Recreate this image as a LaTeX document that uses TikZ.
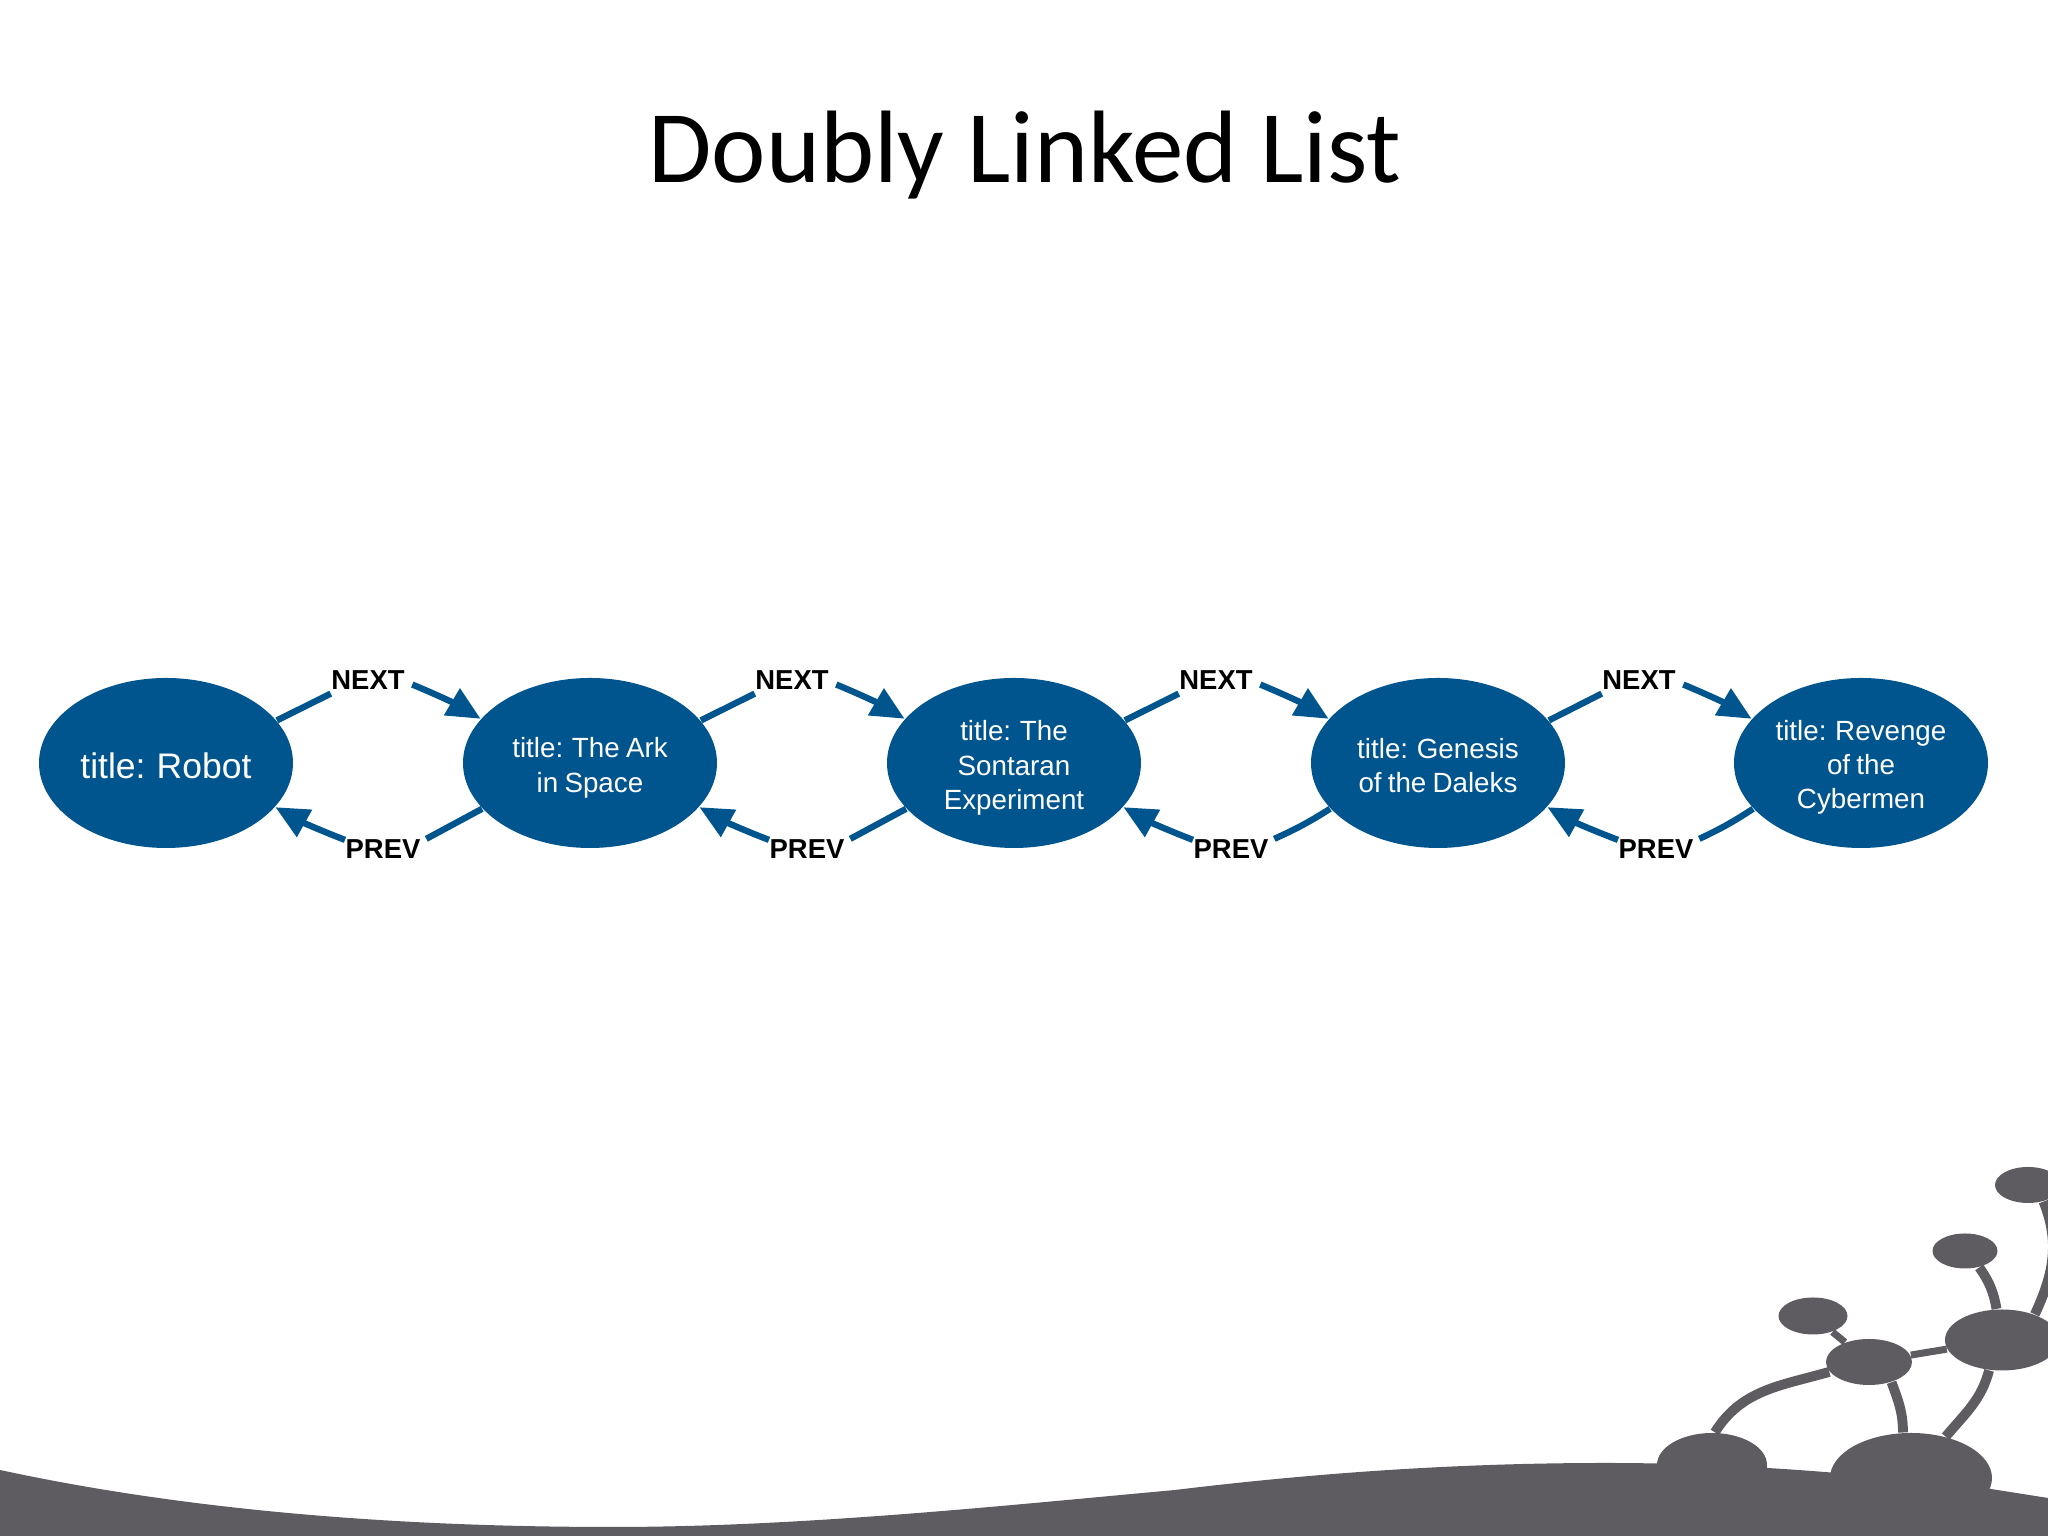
\documentclass[tikz,border=0pt]{standalone}
\usepackage[dvipsnames,svgnames]{xcolor}
\usepackage{fontspec}
\setmainfont[WordSpace=0.8]{Liberation Sans}
\newfontfamily\titlefont{Carlito}
\usetikzlibrary{shapes.geometric,arrows.meta}
\definecolor{listblue}{HTML}{00558F}
\definecolor{hillgrey}{HTML}{5E5C60}
\newcommand{\lowertext}[1]{\rule{0pt}{#1}}
\tikzset{
  episode/.style={ellipse,fill=listblue,text=white,minimum width=2.54cm,minimum height=1.70cm,
    inner sep=0pt,align=center,font=\fontsize{7.9}{9.7}\selectfont},
  linkname/.style={inner sep=2pt,font=\fontsize{7.8}{9}\selectfont\bfseries},
  wire/.style={draw=listblue,line width=1.8pt},
  wirehead/.style={wire,-{Triangle[length=9.5pt,width=8.5pt]}},
  blob/.style={ellipse,fill=hillgrey,inner sep=0pt},
  stem/.style={draw=hillgrey,line width=2.8pt}
}
\begin{document}
\begin{tikzpicture}
  \useasboundingbox (0,0) rectangle (20.48,15.36);
  \clip (0,0) rectangle (20.48,15.36);

  \node[anchor=base,font=\titlefont\fontsize{29.3}{34}\selectfont] (heading) at (10.25,13.53) {Doubly Linked List};

  \node[episode,font=\fontsize{10.1}{12}\selectfont] (robot) at (1.66,7.73) {\lowertext{8.8pt}title: Robot};
  \node[episode] (ark) at (5.90,7.73) {\lowertext{8.5pt}title: The Ark\\in Space};
  \node[episode] (sontaran) at (10.14,7.73) {\lowertext{8.5pt}title: The\\Sontaran\\Experiment};
  \node[episode] (genesis) at (14.38,7.73) {\lowertext{7pt}title: Genesis\\of the Daleks};
  \node[episode] (revenge) at (18.61,7.73) {\lowertext{8pt}title: Revenge\\of the\\Cybermen};

  \node[linkname] (nextA) at (3.68,8.56) {NEXT};
  \node[linkname] (nextB) at (7.92,8.56) {NEXT};
  \node[linkname] (nextC) at (12.16,8.56) {NEXT};
  \node[linkname] (nextD) at (16.39,8.56) {NEXT};
  \node[linkname] (prevA) at (3.83,6.87) {PREV};
  \node[linkname] (prevB) at (8.07,6.87) {PREV};
  \node[linkname] (prevC) at (12.31,6.87) {PREV};
  \node[linkname] (prevD) at (16.56,6.87) {PREV};

  \draw[wire] (robot.21) to ([xshift=2pt,yshift=1pt]nextA.south west);
  \draw[wirehead] ([yshift=-1.3pt]nextA.east) to[bend left=4] (ark.158);
  \draw[wire] (ark.21) to ([xshift=2pt,yshift=1pt]nextB.south west);
  \draw[wirehead] ([yshift=-1.3pt]nextB.east) to[bend left=4] (sontaran.158);
  \draw[wire] (sontaran.21) to ([xshift=2pt,yshift=1pt]nextC.south west);
  \draw[wirehead] ([yshift=-1.3pt]nextC.east) to[bend left=4] (genesis.158);
  \draw[wire] (genesis.21) to ([xshift=2pt,yshift=1pt]nextD.south west);
  \draw[wirehead] ([yshift=-1.3pt]nextD.east) to[bend left=4] (revenge.158);
  \draw[wire] (ark.203) to ([xshift=-0.5pt,yshift=-2pt]prevA.north east);
  \draw[wirehead] ([xshift=2pt,yshift=-2.3pt]prevA.north west) to[bend left=4] (robot.-22);
  \draw[wire] (sontaran.203) to ([xshift=-0.5pt,yshift=-2pt]prevB.north east);
  \draw[wirehead] ([xshift=2pt,yshift=-2.3pt]prevB.north west) to[bend left=4] (ark.-22);
  \draw[wire] (genesis.203) to[bend left=4] ([xshift=-0.5pt,yshift=-2pt]prevC.north east);
  \draw[wirehead] ([xshift=2pt,yshift=-2.3pt]prevC.north west) to[bend left=4] (sontaran.-22);
  \draw[wire] (revenge.203) to[bend left=4] ([xshift=-0.5pt,yshift=-2pt]prevD.north east);
  \draw[wirehead] ([xshift=2pt,yshift=-2.3pt]prevD.north west) to[bend left=4] (genesis.-22);

  \fill[hillgrey] (0,0) -- (0,0.66) .. controls (1.9,0.25) and (4.0,0.09) .. (6.13,0.09)
    .. controls (8.0,0.09) and (10.0,0.30) .. (11.75,0.46)
    .. controls (13.4,0.66) and (14.8,0.73) .. (16.06,0.73)
    .. controls (17.0,0.73) and (18.2,0.68) .. (19.91,0.47)
    -- (20.48,0.38) -- (20.48,0) -- cycle;

  \node[blob,minimum width=1.10cm,minimum height=0.64cm] (blobA) at (17.12,0.71) {};
  \node[blob,minimum width=1.62cm,minimum height=0.90cm] (blobB) at (19.11,0.58) {};
  \node[blob,minimum width=0.86cm,minimum height=0.46cm] (blobC) at (18.69,1.74) {};
  \node[blob,minimum width=0.69cm,minimum height=0.37cm] (blobD) at (18.13,2.20) {};
  \node[blob,minimum width=1.14cm,minimum height=0.61cm] (blobE) at (20.02,1.96) {};
  \node[blob,minimum width=0.65cm,minimum height=0.35cm] (blobF) at (19.65,2.85) {};
  \node[blob,minimum width=0.66cm,minimum height=0.36cm] (blobG) at (20.28,3.51) {};

  \draw[stem] (blobA.85) to[out=58,in=196] (blobC.194);
  \draw[stem] (blobC.-42) to[out=-70,in=90] (blobB.100);
  \draw[stem] (blobB.50) to[out=50,in=-105] (blobE.-113);
  \draw[stem,line width=2pt] (blobC) to (blobE);
  \draw[stem,line width=2pt] (blobD) to (blobC);
  \draw[stem] (blobF.-49) to[out=-55,in=100] (blobE.100);
  \draw[stem] (blobG.-47) to[out=-68,in=65] (blobE.38);
\end{tikzpicture}
\end{document}
